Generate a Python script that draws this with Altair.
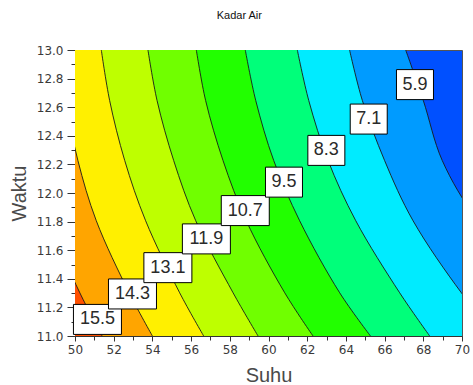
import altair as alt
import pandas as pd

# ---------------- data ----------------
levels = [5.9, 7.1, 8.3, 9.5, 10.7, 11.9, 13.1, 14.3, 15.5]
# fill colour of the band lying on the high-value (left) side of each level
band_colors = ["#009BFF", "#00EBFF", "#00FF7A", "#22FF00", "#70FF00",
               "#BEFF00", "#FFF000", "#FFA500", "#FF5000"]
lowest_color = "#0050FF"  # band below 5.9

# Waktu values at which every contour line was read
line_y = [13.0, 12.647, 12.227, 11.806, 11.302, 11.0]
# Suhu position of each contour line at those Waktu values
x_5_9 = [67.09, 68.0, 68.98, 70.8, 74.0, 75.5]
x_7_1 = [64.19, 64.85, 66.00, 67.47, 69.97, 71.8]
x_8_3 = [61.49, 62.08, 63.08, 64.51, 66.78, 68.33]
x_9_5 = [58.80, 59.34, 60.27, 61.61, 63.68, 65.27]
x_10_7 = [56.27, 56.75, 57.65, 58.85, 60.84, 62.30]
x_11_9 = [53.77, 54.24, 55.10, 56.24, 58.17, 59.46]
x_13_1 = [51.36, 51.79, 52.57, 53.65, 55.41, 56.65]
x_14_3 = [49.05, 49.5, 50.15, 51.10, 52.80, 54.00]
x_15_5 = [46.5, 46.9, 47.6, 48.6, 50.25, 51.4]
contour_x = [x_5_9, x_7_1, x_8_3, x_9_5, x_10_7, x_11_9, x_13_1, x_14_3, x_15_5]

# contour labels
label_text = ["15.5", "14.3", "13.1", "11.9", "10.7", "9.5", "8.3", "7.1", "5.9"]
label_x = [51.16, 52.97, 54.80, 56.79, 58.80, 60.80, 62.99, 65.18, 67.57]
label_y = [11.116, 11.294, 11.478, 11.679, 11.877, 12.076, 12.298, 12.517, 12.758]

# axis ticks
x_ticks = [50, 51, 52, 53, 54, 55, 56, 57, 58, 59, 60, 61, 62, 63, 64, 65, 66, 67, 68, 69, 70]
y_ticks = [11.0, 11.1, 11.2, 11.3, 11.4, 11.5, 11.6, 11.7, 11.8, 11.9, 12.0,
           12.1, 12.2, 12.3, 12.4, 12.5, 12.6, 12.7, 12.8, 12.9, 13.0]

# ---------------- tables ----------------
rows = []
for lv, xs in zip(levels, contour_x):
    for yy, xx in zip(line_y, xs):
        rows.append({"level": lv, "x": xx, "y": yy})
lines_df = pd.DataFrame(rows)

labels_df = pd.DataFrame({"text": label_text, "x": label_x, "y": label_y})
labels_df["n"] = labels_df["text"].str.len()

# ---------------- scales / axes ----------------
xscale = alt.Scale(domain=[50, 70], nice=False, zero=False)
yscale = alt.Scale(domain=[11, 13], nice=False, zero=False)

axis_color = "#333333"
x_axis = alt.Axis(
    values=x_ticks, format="d",
    labelExpr="datum.value % 2 === 0 ? datum.label : ''",
    tickSize={"condition": {"test": "datum.value % 2 === 0", "value": 5}, "value": 4},
    labelFont="DejaVu Sans", labelFontSize=12, labelColor="#3a3a3a",
    labelPadding=3, labelOverlap=False, labelFlush=False,
    tickColor=axis_color, domainColor=axis_color, grid=False,
    title="Suhu", titleFont="Liberation Sans", titleFontSize=20,
    titleFontWeight="normal", titleColor="#4a4a4a",
    titleX=193.5, titleY=39, titleBaseline="middle", titleAlign="center",
)
y_axis = alt.Axis(
    values=y_ticks,
    labelExpr="round(datum.value * 10) % 2 === 0 ? format(datum.value, '.1f') : ''",
    tickSize={"condition": {"test": "round(datum.value * 10) % 2 === 0", "value": 8}, "value": 4},
    labelFont="DejaVu Sans", labelFontSize=12, labelColor="#3a3a3a",
    labelPadding=4, labelOverlap=False, labelFlush=False,
    tickColor=axis_color, domainColor=axis_color, grid=False,
    title="Waktu", titleFont="Liberation Sans", titleFontSize=20,
    titleFontWeight="normal", titleColor="#4a4a4a",
    titleX=-56, titleY=143, titleAngle=270, titleBaseline="middle", titleAlign="center",
)


def X():
    return alt.X("x:Q", scale=xscale, axis=x_axis, stack=None)


def Y():
    return alt.Y("y:Q", scale=yscale, axis=y_axis)


layers = []
for lv, col in zip(levels, band_colors):
    layers.append(
        alt.Chart(lines_df[lines_df["level"] == lv])
        .mark_area(orient="horizontal", interpolate="catmull-rom", clip=True, color=col)
        .encode(x=X(), x2=alt.value(0), y=Y())
    )

contours = (
    alt.Chart(lines_df)
    .mark_line(interpolate="catmull-rom", clip=True, color="#1a1a1a", strokeWidth=0.9)
    .encode(x=X(), y=Y(), detail="level:N", order=alt.Order("y:Q"))
)

box4 = (
    alt.Chart(labels_df[labels_df["n"] == 4])
    .mark_point(shape="M-1,-0.625H1V0.625H-1Z", size=2304, filled=True,
                fill="white", stroke="black", strokeWidth=1, opacity=1)
    .encode(x=X(), y=Y())
)
box3 = (
    alt.Chart(labels_df[labels_df["n"] == 3])
    .mark_point(shape="M-1,-0.811H1V0.811H-1Z", size=1369, filled=True,
                fill="white", stroke="black", strokeWidth=1, opacity=1)
    .encode(x=X(), y=Y())
)
texts = (
    alt.Chart(labels_df)
    .mark_text(font="Liberation Sans", fontSize=18, color="#2a2a2a",
               align="center", baseline="middle")
    .encode(x=X(), y=Y(), text="text:N")
)

chart = (
    alt.layer(*layers, contours, box4, box3, texts)
    .properties(
        width=387, height=286,
        title=alt.TitleParams("Kadar Air", font="Liberation Sans", fontSize=11,
                              fontWeight="normal", color="#111111",
                              anchor="middle", frame="bounds", offset=23),
        autosize=alt.AutoSizeParams(type="none"),
        padding={"left": 75, "top": 50, "right": 11, "bottom": 49},
    )
    .configure_view(fill=lowest_color, stroke="#555555", strokeWidth=1)
)

chart.save("out.html", embed_options={"renderer": "svg", "actions": False})
